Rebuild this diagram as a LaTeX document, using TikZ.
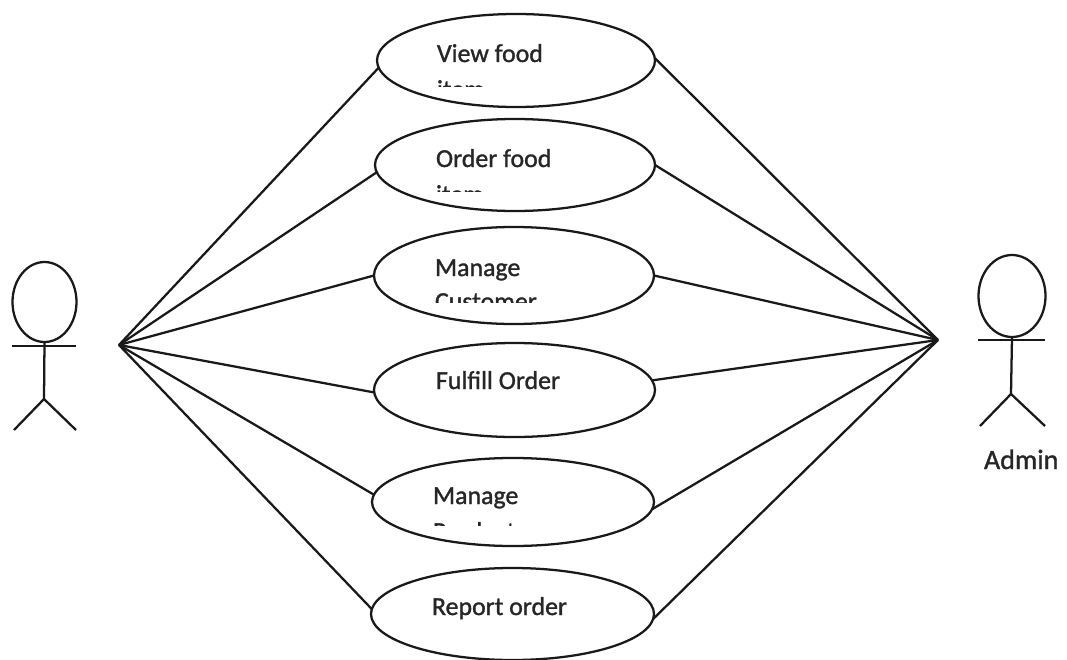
\documentclass[tikz,border=0pt]{standalone}
\usepackage{fontspec}
\setmainfont{Carlito}
\newfontfamily\labfont[RawFeature={embolden=1.2}]{Carlito}
\usetikzlibrary{shapes.geometric}
\definecolor{ink}{gray}{0.1}
\definecolor{txt}{gray}{0.15}
\tikzset{
  x=0.75pt,y=-0.75pt,
  ln/.style={draw=ink,line width=1.7pt},
  usecase/.style={ellipse,ln,inner sep=0pt,outer sep=0pt,fill=white},
  head/.style={ellipse,ln,inner sep=0pt,outer sep=0pt},
  lab/.style={anchor=base west,inner sep=0pt,outer sep=0pt,text=txt,font=\labfont\fontsize{19.4}{19.4}\selectfont},
  adminlab/.style={lab,font=\labfont\fontsize{21}{21}\selectfont},
}
\begin{document}
\begin{tikzpicture}
\useasboundingbox (0,0) rectangle (1067,660);
\coordinate (lh) at (119,345);
\coordinate (rh) at (938,340);
% use cases
\node[usecase,minimum width=208.5pt,minimum height=69.75pt] (e1) at (516,60.5) {};
\node[usecase,minimum width=210pt,minimum height=69pt] (e2) at (515,165) {};
\node[usecase,minimum width=210pt,minimum height=72.75pt] (e3) at (514,275.5) {};
\node[usecase,minimum width=210.75pt,minimum height=70.5pt] (e4) at (514.5,390) {};
\node[usecase,minimum width=211.5pt,minimum height=66pt] (e5) at (513,502) {};
\node[usecase,minimum width=212.25pt,minimum height=69pt] (e6) at (512.5,614) {};
% connectors
\draw[ln] (lh) -- (e1.183);
\draw[ln] (lh) -- (e2.183);
\draw[ln] (lh) -- (e3.180);
\draw[ln] (lh) -- (e4.181);
\draw[ln] (lh) -- (e5.177);
\draw[ln] (lh) -- (e6.178);
\draw[ln] (rh) -- (e1.1);
\draw[ln] (rh) -- (e2.0);
\draw[ln] (rh) -- (e3.0.5);
\draw[ln] (rh) -- (e4.4);
\draw[ln] (rh) -- (e5.-3);
\draw[ln] (rh) -- (e6.-2.4);
% labels
\node[lab] (t1) at (437,62) {View food};
\node[lab] (t2) at (436,167) {Order food};
\node[lab] (t3) at (435,276) {Manage};
\node[lab] (t4) at (436,389) {Fulfill Order};
\node[lab] (t5) at (433,504) {Manage};
\node[lab] (t6) at (432,615) {Report order};
\begin{scope}
\clip (420,70) rectangle (600,87);
\node[lab] (t1b) at (437,98) {item};
\end{scope}
\begin{scope}
\clip (420,175) rectangle (600,191);
\node[lab] (t2b) at (436,203) {item};
\end{scope}
\begin{scope}
\clip (420,285) rectangle (600,302);
\node[lab] (t3b) at (435,310) {Customer};
\end{scope}
\begin{scope}
\clip (420,512) rectangle (600,525);
\node[lab] (t5b) at (433,540) {Product};
\end{scope}
% left actor
\node[head,minimum width=48pt,minimum height=60pt] (ha) at (44.5,302) {};
\coordinate (ab) at (44,399);
\coordinate (aal) at (12,346);
\coordinate (aar) at (76,346);
\coordinate (all) at (14,430);
\coordinate (alr) at (76,430);
\draw[ln] (ha.south) -- (ab);
\draw[ln] (aal) -- (aar);
\draw[ln] (all) -- (ab) -- (alr);
% right actor
\node[head,minimum width=50.25pt,minimum height=61.5pt] (hb) at (1012,296) {};
\coordinate (bb) at (1011,394);
\coordinate (bal) at (978,340);
\coordinate (bar) at (1045,340);
\coordinate (bll) at (980,426);
\coordinate (blr) at (1045,426);
\draw[ln] (hb.south) -- (bb);
\draw[ln] (bal) -- (bar);
\draw[ln] (bll) -- (bb) -- (blr);
\node[adminlab] (admin) at (984,469) {Admin};
\end{tikzpicture}
\end{document}
